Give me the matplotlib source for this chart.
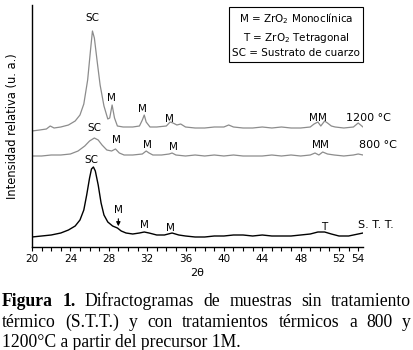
import matplotlib
matplotlib.use('Agg')
from matplotlib import pyplot as plt
import numpy as np

# 2theta positions and intensities (arbitrary units, relative to each baseline)
tt_1200 = [20, 20.8, 21.5, 21.9, 22.3, 23, 23.8, 24.5, 25, 25.4, 25.8, 26.1, 26.3, 26.5,
           26.8, 27.1, 27.5, 27.9, 28.1, 28.35, 28.6, 28.9, 29.5, 30.5, 31.2, 31.5, 31.7,
           31.9, 32.3, 33, 34, 34.4, 34.7, 35.1, 35.5, 36, 37, 38, 39, 40, 40.5, 41, 42,
           43, 44, 45, 46, 47, 48, 49, 49.4, 49.8, 50.1, 50.5, 50.8, 51.2, 51.6, 52.5,
           53.5, 54, 54.5]
int_1200 = [0, 1, 2, 5, 3, 4, 6, 10, 16, 27, 51, 81, 100, 93,
            69, 46, 25, 12, 13, 26, 13, 5, 4, 4, 5, 11, 16,
            9, 4, 4, 5, 9, 8, 6, 7, 4, 3, 3, 4, 4, 6, 4, 3,
            3, 4, 3, 4, 3, 3, 4, 7, 9, 5, 10, 8, 5, 4, 3,
            4, 8, 4]

tt_800 = [20, 21, 22, 23, 24, 24.8, 25.5, 26, 26.5, 26.9, 27.3, 27.8, 28.3, 28.7, 29.1,
          29.6, 30.5, 31.5, 31.9, 32.2, 32.6, 33.5, 34.3, 34.6, 35, 36, 37, 38, 39, 40,
          41, 42, 43, 44, 45, 46, 47, 48, 49, 49.5, 49.9, 50.3, 50.8, 51.5, 52.5, 53.5,
          54, 54.5]
int_800 = [0, 0, 1, 1, 2, 5, 10, 15, 18, 16, 11, 6, 5, 7, 3,
           1, 1, 2, 5, 3, 1, 1, 2, 3, 1, 0, 1, 0, 1, 0,
           1, 0, 0, 0, 1, 0, 1, 0, 1, 3, 1, 4, 2, 1, 0, 1,
           2, 1]

tt_stt = [20, 21, 22, 23, 23.8, 24.5, 25, 25.4, 25.7, 26, 26.2, 26.4, 26.6, 26.9, 27.2,
          27.5, 27.9, 28.4, 28.9, 29.3, 29.8, 30.5, 31.2, 31.7, 32.2, 33, 33.8, 34.6,
          35.3, 36, 37, 38, 39, 40, 41, 42, 43, 44, 45, 46, 47, 48, 49, 49.8, 50.5, 51.2,
          52, 53, 54, 54.5]
int_stt = [0, 1, 2, 4, 7, 11, 17, 27, 42, 59, 68, 70, 66, 52, 34,
           22, 15, 11, 9, 6, 4, 3, 4, 5, 4, 2, 2, 4,
           2, 1, 0, 0, 1, 1, 2, 2, 1, 2, 1, 1, 1, 2, 3, 5, 5, 3,
           1, 1, 3, 4]

offset_stt, offset_800, offset_1200 = 10, 91, 116

fig = plt.figure(figsize=(4.14, 3.5), dpi=100)
ax = fig.add_axes([32 / 414, 103 / 350, 331 / 414, 242 / 350])

grey = '#8c8c8c'
ax.plot(tt_1200, np.array(int_1200) + offset_1200, color=grey, lw=0.9)
ax.plot(tt_800, np.array(int_800) + offset_800, color=grey, lw=0.9)
ax.plot(tt_stt, np.array(int_stt) + offset_stt, color='black', lw=1.0)

ax.set_xlim(20, 54.5)
ax.set_ylim(0, 242)
ax.spines['top'].set_visible(False)
ax.spines['right'].set_visible(False)
ax.spines['left'].set_linewidth(1.0)
ax.spines['bottom'].set_linewidth(1.0)
ax.set_yticks([])
ax.set_xticks([20, 24, 28, 32, 36, 40, 44, 48, 52, 54])
ax.set_xticks(np.arange(20, 55, 1), minor=True)
ax.tick_params(axis='x', which='both', direction='out', length=3, width=0.8,
               labelsize=7.5, pad=2)
ax.set_xlabel('2θ', fontsize=8, labelpad=3)
ax.set_ylabel('Intensidad relativa (u. a.)', fontsize=8.3, labelpad=9)

fs = 7.5
# peak labels: (2theta, height)
lab_1200 = [('SC', 26.3, 229), ('M', 28.3, 149), ('M', 31.5, 138), ('M', 34.3, 128),
            ('M', 49.3, 129), ('M', 50.3, 129)]
lab_800 = [('SC', 26.5, 119), ('M', 28.8, 107), ('M', 32.0, 102), ('M', 34.7, 100),
           ('M', 49.6, 102), ('M', 50.5, 102)]
lab_stt = [('SC', 26.2, 87), ('M', 29.0, 37), ('M', 31.7, 22), ('M', 34.4, 19),
           ('T', 50.5, 20)]
for name, x, y in lab_1200 + lab_800 + lab_stt:
    ax.text(x, y, name, fontsize=fs, ha='center', va='center')
ax.annotate('', xy=(29.0, 18), xytext=(29.0, 31),
            arrowprops=dict(arrowstyle='-|>', color='black', lw=0.8, mutation_scale=6))

ax.text(55.1, 129, '1200 °C', fontsize=8, ha='center', va='center')
ax.text(56.1, 102, '800 °C', fontsize=8, ha='center', va='center')
ax.text(55.8, 22, 'S. T. T.', fontsize=8, ha='center', va='center')

# legend box
legend_txt = 'M = ZrO$_2$ Monoclínica\nT = ZrO$_2$ Tetragonal\nSC = Sustrato de cuarzo'
fig.text(296 / 414, 1 - 35 / 350, legend_txt, fontsize=7.5, ha='center', va='center',
         multialignment='center', linespacing=1.45,
         bbox=dict(boxstyle='square,pad=0.3', fc='white', ec='black', lw=0.8))

# caption, justified
serif = 'Liberation Serif'
cap_lines = [
    [('Figura', 'bold'), ('1.', 'bold'), ('Difractogramas', 'normal'), ('de', 'normal'),
     ('muestras', 'normal'), ('sin', 'normal'), ('tratamiento', 'normal')],
    [('térmico', 'normal'), ('(S.T.T.)', 'normal'), ('y', 'normal'), ('con', 'normal'),
     ('tratamientos', 'normal'), ('térmicos', 'normal'), ('a', 'normal'), ('800', 'normal'),
     ('y', 'normal')],
]
left_px, right_px = 2, 411
baselines = [306, 327, 347]
fig.canvas.draw()
renderer = fig.canvas.get_renderer()
for words, base in zip(cap_lines, baselines):
    txts = [fig.text(0, 1 - base / 350, w, fontsize=12.7, family=serif, weight=wt,
                     va='baseline') for w, wt in words]
    widths = [t.get_window_extent(renderer).width for t in txts]
    gap = (right_px - left_px - sum(widths)) / (len(txts) - 1)
    x = left_px
    for t, w in zip(txts, widths):
        t.set_x(x / 414)
        x += w + gap
fig.text(left_px / 414, 1 - baselines[2] / 350, '1200°C a partir del precursor 1M.',
         fontsize=12.7, family=serif, va='baseline')

fig.savefig('out.png', dpi=100)
